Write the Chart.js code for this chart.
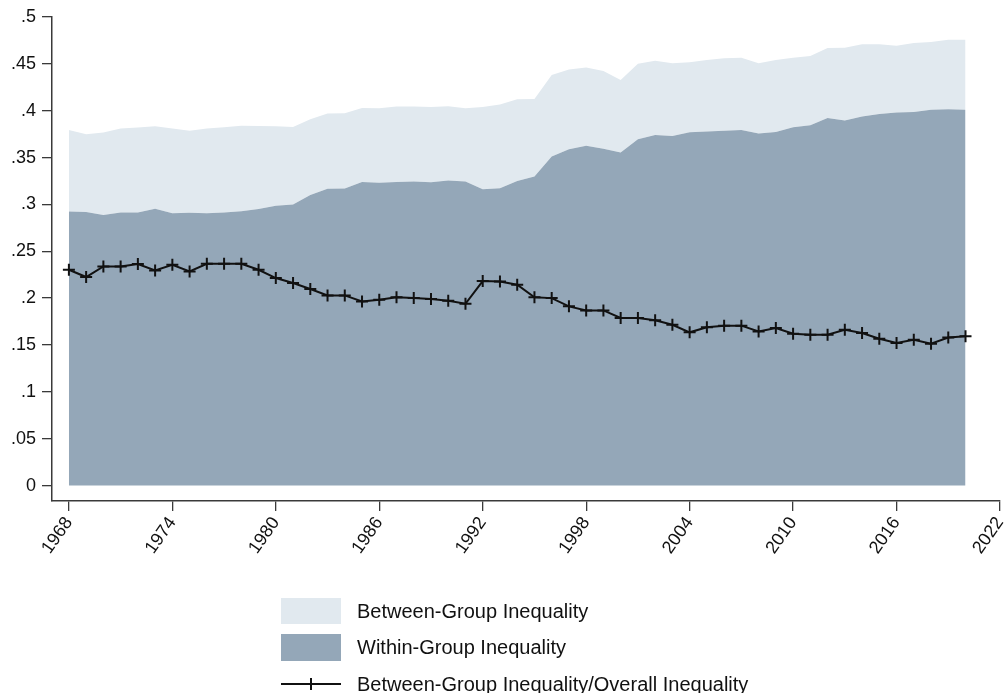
<!DOCTYPE html>
<html>
<head>
<meta charset="utf-8">
<script src="https://cdn.jsdelivr.net/npm/chart.js@4"></script>
<style>
  html, body { margin: 0; padding: 0; background: #fff; }
  #wrap { position: relative; width: 1004px; height: 693px; overflow: hidden; }
  canvas { position: absolute; left: 0; top: 0; }
  .lg-box { position: absolute; left: 281px; width: 60px; }
  .lg-text { position: absolute; left: 357px; font-family: "Liberation Sans", Arial, sans-serif; font-size: 20px; color: #111; line-height: 24px; white-space: nowrap; }
  .lg-line { position: absolute; left: 281px; top: 683px; width: 60px; height: 2px; background: #111; }
  .lg-cross { position: absolute; left: 310px; top: 678px; width: 2px; height: 12px; background: #111; }
</style>
</head>
<body>
<div id="wrap">
  <canvas id="c" width="1004" height="693"></canvas>
  <div class="lg-box" style="top:598px;height:26px;background:#e1e9ef;"></div>
  <div class="lg-text" style="top:599px;">Between-Group Inequality</div>
  <div class="lg-box" style="top:634px;height:27px;background:#94a7b8;"></div>
  <div class="lg-text" style="top:635px;">Within-Group Inequality</div>
  <div class="lg-line"></div>
  <div class="lg-cross"></div>
  <div class="lg-text" style="top:672px;">Between-Group Inequality/Overall Inequality</div>
</div>
<script>
const years = [1968,1969,1970,1971,1972,1973,1974,1975,1976,1977,1978,1979,1980,1981,1982,1983,1984,1985,1986,1987,1988,1989,1990,1991,1992,1993,1994,1995,1996,1997,1998,1999,2000,2001,2002,2003,2004,2005,2006,2007,2008,2009,2010,2011,2012,2013,2014,2015,2016,2017,2018,2019,2020];

const withinGroup = [0.2925,0.2918,0.2886,0.2914,0.2914,0.2953,0.2907,0.2910,0.2907,0.2914,0.2928,0.2950,0.2985,0.3000,0.3100,0.3166,0.3170,0.3240,0.3230,0.3240,0.3244,0.3237,0.3255,0.3244,0.3163,0.3173,0.3250,0.3298,0.3510,0.3590,0.3625,0.3593,0.3554,0.3696,0.3742,0.3731,0.3770,0.3777,0.3785,0.3795,0.3756,0.3774,0.3824,0.3845,0.3923,0.3895,0.3937,0.3966,0.3980,0.3987,0.4010,0.4016,0.4010];

const betweenGroup = [0.0870,0.0832,0.0881,0.0896,0.0906,0.0881,0.0903,0.0875,0.0903,0.0910,0.0912,0.0888,0.0849,0.0827,0.0810,0.0804,0.0803,0.0790,0.0796,0.0804,0.0800,0.0803,0.0793,0.0782,0.0877,0.0893,0.0873,0.0828,0.0870,0.0850,0.0835,0.0831,0.0774,0.0804,0.0792,0.0775,0.0747,0.0763,0.0775,0.0771,0.0750,0.0766,0.0742,0.0739,0.0747,0.0778,0.0771,0.0742,0.0714,0.0736,0.0723,0.0742,0.0748];

const betweenShare = [0.2303,0.2225,0.2338,0.2338,0.2363,0.2296,0.2356,0.2285,0.2367,0.2367,0.2367,0.2303,0.2214,0.2161,0.2097,0.2029,0.2029,0.1965,0.1983,0.2008,0.2000,0.1990,0.1972,0.1940,0.2182,0.2178,0.2143,0.2008,0.2000,0.1912,0.1869,0.1869,0.1788,0.1788,0.1763,0.1716,0.1635,0.1688,0.1706,0.1706,0.1645,0.1681,0.1620,0.1610,0.1610,0.1663,0.1628,0.1567,0.1521,0.1556,0.1514,0.1580,0.1592];

const xTicks = [1968,1974,1980,1986,1992,1998,2004,2010,2016,2022];
const yTicks = [0,0.05,0.1,0.15,0.2,0.25,0.3,0.35,0.4,0.45,0.5];
const yTickLabels = ['0','.05','.1','.15','.2','.25','.3','.35','.4','.45','.5'];

const seriesLabels = ['Between-Group Inequality/Overall Inequality','Within-Group Inequality','Between-Group Inequality'];

const pts = arr => years.map((yr, i) => ({ x: yr, y: arr[i] }));
const axisColor = '#3a3a3a';
const textColor = '#111';
const fontFam = '"Liberation Sans", Arial, sans-serif';

new Chart(document.getElementById('c'), {
  type: 'line',
  data: {
    datasets: [
      {
        label: seriesLabels[0],
        data: pts(betweenShare),
        stack: 'share',
        borderColor: '#111',
        borderWidth: 2,
        pointStyle: 'cross',
        pointRadius: 6,
        pointBorderColor: '#111',
        pointBorderWidth: 2,
        fill: false,
        tension: 0
      },
      {
        label: seriesLabels[1],
        data: pts(withinGroup),
        stack: 'ineq',
        borderWidth: 0,
        borderColor: 'rgba(0,0,0,0)',
        backgroundColor: '#94a7b8',
        pointRadius: 0,
        fill: 'origin',
        tension: 0
      },
      {
        label: seriesLabels[2],
        data: pts(betweenGroup),
        stack: 'ineq',
        borderWidth: 0,
        borderColor: 'rgba(0,0,0,0)',
        backgroundColor: '#e1e9ef',
        pointRadius: 0,
        fill: '-1',
        tension: 0
      }
    ]
  },
  options: {
    responsive: false,
    animation: false,
    devicePixelRatio: 1,
    layout: { autoPadding: false, padding: { top: 17, right: 4, left: 0, bottom: 0 } },
    plugins: { legend: { display: false }, tooltip: { enabled: false } },
    scales: {
      x: {
        type: 'linear',
        min: 1967.02,
        max: 2022,
        afterBuildTicks: s => { s.ticks = xTicks.map(v => ({ value: v })); },
        afterFit: s => { s.height = 192; s.paddingLeft = 0; s.paddingRight = 0; },
        ticks: {
          minRotation: 55, maxRotation: 55,
          autoSkip: false,
          color: textColor,
          font: { family: fontFam, size: 18 },
          padding: 2,
          callback: v => String(v)
        },
        grid: { drawOnChartArea: false, drawTicks: true, tickLength: 10, color: axisColor, lineWidth: 1.3 },
        border: { display: true, color: axisColor, width: 1.5 }
      },
      y: {
        type: 'linear',
        stacked: true,
        min: -0.0165,
        max: 0.5,
        afterBuildTicks: s => { s.ticks = yTicks.map(v => ({ value: v })); },
        afterFit: s => { s.width = 52; },
        ticks: {
          color: textColor,
          font: { family: fontFam, size: 18 },
          padding: 6,
          callback: (v, i) => yTickLabels[i]
        },
        grid: { drawOnChartArea: false, drawTicks: true, tickLength: 10, color: axisColor, lineWidth: 1.3 },
        border: { display: true, color: axisColor, width: 1.5 }
      }
    }
  }
});
</script>
</body>
</html>
